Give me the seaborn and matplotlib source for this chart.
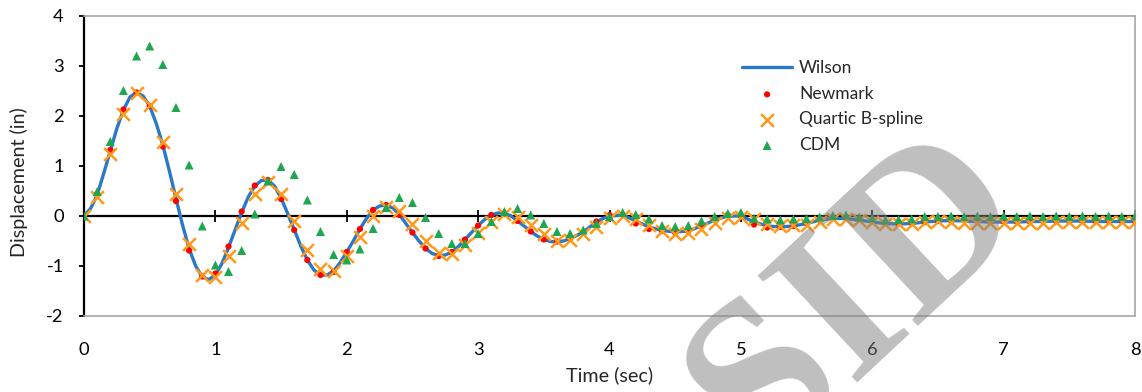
import numpy as np
import pandas as pd
import matplotlib
matplotlib.use("Agg")
import matplotlib.pyplot as plt
import seaborn as sns

# ---------------- data ----------------
t_marker = np.round(np.arange(0, 8.001, 0.1), 2)

newmark = [0, 0.44, 1.32, 2.13, 2.47, 2.2, 1.39, 0.30, -0.69, -1.21,
           -1.15, -0.61, 0.09, 0.61, 0.72, 0.34, -0.28, -0.88, -1.18, -1.12,
           -0.72, -0.26, 0.12, 0.22, 0.02, -0.33, -0.65, -0.8, -0.72, -0.47,
           -0.19, 0.02, 0.05, -0.1, -0.31, -0.47, -0.51, -0.45, -0.33, -0.11,
           0.02, 0.03, -0.15, -0.26, -0.3, -0.33, -0.3, -0.18, -0.05, 0.02,
           0.0, -0.17, -0.23, -0.22, -0.2, -0.14, -0.08, -0.03, -0.03, -0.06,
           -0.1, -0.14, -0.15, -0.14, -0.12, -0.1, -0.09, -0.09, -0.1, -0.11,
           -0.11, -0.11, -0.11, -0.1, -0.1, -0.1, -0.1, -0.1, -0.1, -0.1, -0.1]

quartic = [0, 0.39, 1.25, 2.05, 2.45, 2.22, 1.49, 0.44, -0.56, -1.18,
           -1.21, -0.8, -0.13, 0.45, 0.68, 0.45, -0.09, -0.68, -1.05, -1.09,
           -0.8, -0.41, 0.0, 0.19, 0.11, -0.15, -0.5, -0.73, -0.76, -0.58,
           -0.33, -0.11, 0.04, -0.01, -0.17, -0.35, -0.49, -0.48, -0.36, -0.21,
           -0.04, 0.0, -0.05, -0.18, -0.3, -0.35, -0.33, -0.25, -0.13, -0.03,
           -0.01, -0.06, -0.15, -0.19, -0.18, -0.17, -0.11, -0.05, -0.05, -0.08,
           -0.12, -0.15, -0.16, -0.15, -0.12, -0.1, -0.12, -0.13, -0.13, -0.13,
           -0.13, -0.13, -0.13, -0.13, -0.12, -0.12, -0.12, -0.12, -0.12, -0.12, -0.12]

cdm = [0, 0.49, 1.49, 2.51, 3.2, 3.4, 3.03, 2.17, 1.02, -0.2,
       -0.98, -1.11, -0.69, 0.04, 0.7, 0.99, 0.83, 0.32, -0.31, -0.77,
       -0.88, -0.66, -0.25, 0.17, 0.37, 0.27, -0.03, -0.35, -0.55, -0.55,
       -0.35, -0.11, 0.09, 0.15, 0.02, -0.15, -0.31, -0.35, -0.28, -0.15,
       -0.01, 0.07, 0.03, -0.06, -0.19, -0.21, -0.19, -0.1, -0.01, 0.05,
       0.07, -0.05, -0.06, -0.08, -0.06, -0.05, -0.02, 0.01, 0.02, -0.02,
       -0.04, -0.08, -0.07, -0.06, -0.01, -0.01, 0.0, -0.01, 0.0, -0.01,
       0.0, -0.01, 0.0, -0.01, 0.0, -0.01, 0.0, -0.01, 0.0, -0.01, 0.0]

t_wilson = np.round(np.concatenate([np.arange(0, 4.001, 0.05),
                                    np.arange(4.1, 8.001, 0.1)]), 2)
wilson = [0, 0.15, 0.42, 0.85, 1.3, 1.75, 2.12, 2.38, 2.47, 2.4,
          2.2, 1.85, 1.42, 0.9, 0.35, -0.18, -0.65, -1.0, -1.22, -1.27,
          -1.18, -0.95, -0.63, -0.28, 0.07, 0.38, 0.6, 0.71, 0.72, 0.6,
          0.36, 0.05, -0.27, -0.6, -0.88, -1.08, -1.18, -1.18, -1.1, -0.93,
          -0.72, -0.5, -0.26, -0.05, 0.12, 0.2, 0.22, 0.16, 0.03, -0.15,
          -0.33, -0.5, -0.65, -0.75, -0.79, -0.78, -0.72, -0.61, -0.47, -0.33,
          -0.19, -0.07, 0.02, 0.06, 0.06, 0.0, -0.1, -0.2, -0.31, -0.4,
          -0.47, -0.51, -0.52, -0.5, -0.45, -0.39, -0.32, -0.22, -0.12, -0.05,
          0.0,
          0.02, -0.1, -0.22, -0.29, -0.32, -0.3, -0.2, -0.08, 0.0, 0.0,
          -0.12, -0.2, -0.22, -0.2, -0.15, -0.08, -0.05, -0.05, -0.08, -0.12,
          -0.15, -0.16, -0.15, -0.12, -0.1, -0.09, -0.1, -0.11, -0.12, -0.12,
          -0.12, -0.11, -0.11, -0.1, -0.1, -0.1, -0.11, -0.11, -0.11, -0.11]

x_ticks = [0, 1, 2, 3, 4, 5, 6, 7, 8]
y_ticks = [-2, -1, 0, 1, 2, 3, 4]

df_m = pd.DataFrame({"t": t_marker, "Newmark": newmark,
                     "Quartic": quartic, "CDM": cdm})
df_w = pd.DataFrame({"t": t_wilson, "Wilson": wilson})

# ---------------- style ----------------
sns.set_theme(style="white")
plt.rcParams["font.family"] = ["Lato", "DejaVu Sans"]

fig = plt.figure(figsize=(11.42, 3.92), dpi=100)
ax = fig.add_axes([84 / 1142, 1 - 316 / 392, 1051 / 1142, 300 / 392])

c_blue = "#2a78c8"
c_red = "#ff0000"
c_orange = "#ff9a1a"
c_green = "#1ea650"

sns.lineplot(data=df_w, x="t", y="Wilson", ax=ax, color=c_blue, lw=2.4,
             zorder=3, label="Wilson")
sns.scatterplot(data=df_m, x="t", y="Newmark", ax=ax, color=c_red, s=20,
                edgecolor="none", zorder=4, label="Newmark")
sns.scatterplot(data=df_m, x="t", y="Quartic", ax=ax, color=c_orange,
                marker="x", s=85, linewidth=1.8, zorder=5,
                label="Quartic B-spline")
sns.scatterplot(data=df_m, x="t", y="CDM", ax=ax, color=c_green, marker="^",
                s=42, edgecolor="none", zorder=6, label="CDM")

ax.set_xlim(0, 8)
ax.set_ylim(-2, 4)
ax.set_xticks(x_ticks)
ax.set_yticks(y_ticks)
ax.set_xticklabels([str(v) for v in x_ticks])
ax.set_yticklabels([str(v) for v in y_ticks])

for s in ["top", "right", "bottom"]:
    ax.spines[s].set_color("#a6a6a6")
    ax.spines[s].set_linewidth(1.2)
ax.spines["left"].set_color("black")
ax.spines["left"].set_linewidth(1.6)

ax.tick_params(axis="x", length=0, pad=19, labelsize=13.2, colors="black")
ax.tick_params(axis="y", length=3.5, width=1.3, direction="out", left=True,
               pad=11, labelsize=13.2, colors="black")

# zero axis (horizontal) with crossing ticks
sec = ax.secondary_xaxis(1 / 3)
sec.set_xticks(x_ticks)
sec.tick_params(axis="x", direction="inout", length=8, width=1.3,
                labelbottom=False, colors="black")
sec.spines["bottom"].set_color("black")
sec.spines["bottom"].set_linewidth(1.6)
sec.set_zorder(1)

ax.set_xlabel("Time (sec)", fontsize=14.2, labelpad=6)
ax.set_ylabel("Displacement (in)", fontsize=14.2)
ax.yaxis.set_label_coords(-0.053, 0.447)

leg = ax.legend(loc="upper left", bbox_to_anchor=(0.626, 0.852),
                frameon=False, fontsize=12.5, handlelength=2.9,
                handletextpad=0.4, labelspacing=0.55, borderaxespad=0,
                borderpad=0)

# watermark
fig.text(858 / 1142, 1 - 298 / 392, "SID", rotation=43,
         rotation_mode="anchor", ha="center", va="center",
         fontsize=160, family="Liberation Serif", weight="bold",
         color="#808080", alpha=0.5, zorder=10)

fig.savefig("out.png", dpi=100)
